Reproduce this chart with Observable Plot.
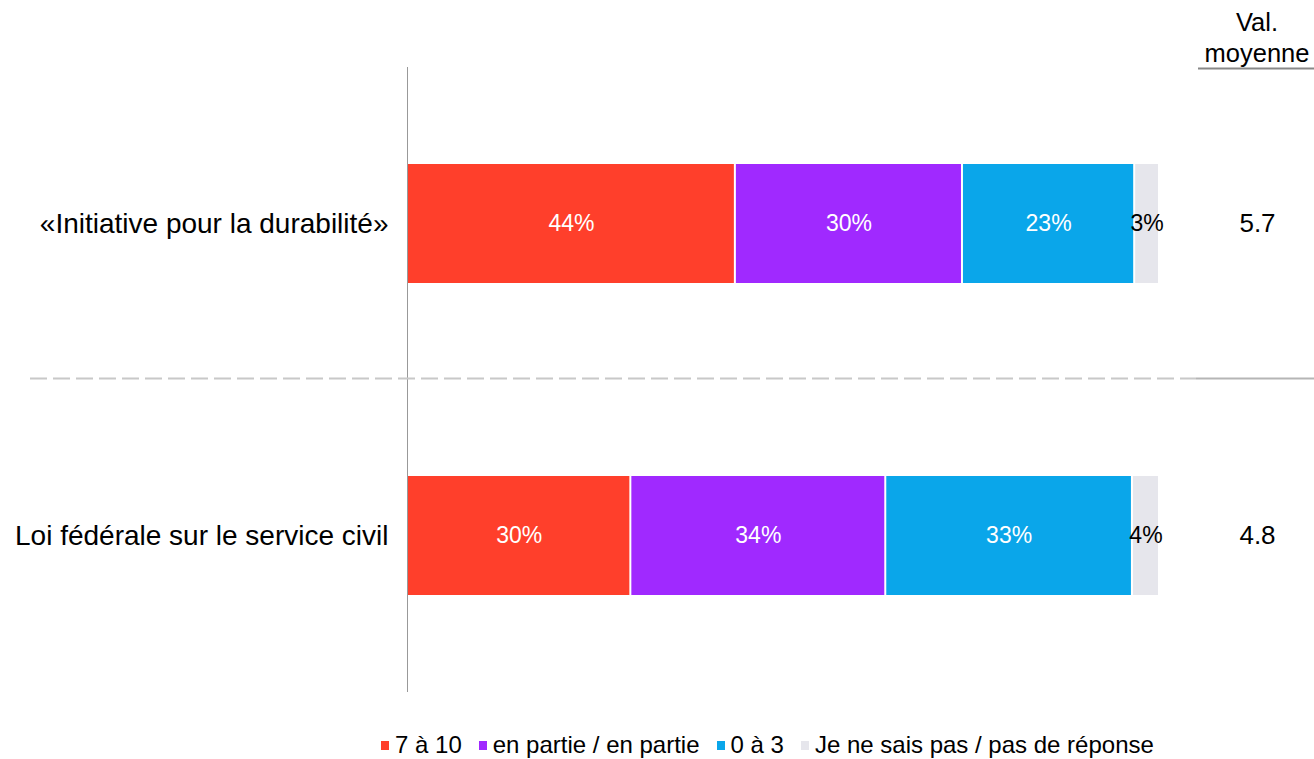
<!DOCTYPE html>
<html>
<head>
<meta charset="utf-8">
<script src="https://cdn.jsdelivr.net/npm/d3@7"></script>
<script src="https://cdn.jsdelivr.net/npm/@observablehq/plot@0.6"></script>
<style>
  body { margin: 0; background: #fff; font-family: "Liberation Sans", Arial, sans-serif; }
  #wrap { position: relative; width: 1314px; height: 759px; }
  #legend { position: absolute; left: 381px; top: 731px; display: flex; align-items: center; font-size: 24px; line-height: 28px; color: #000; white-space: nowrap; }
  #legend .item { display: flex; align-items: center; margin-right: 17px; }
  #legend .sw { width: 8px; height: 9px; margin-right: 6px; display: inline-block; }
</style>
</head>
<body>
<div id="wrap"><div id="chart"></div><div id="legend"></div></div>
<script>
const categories = ["«Initiative pour la durabilité»", "Loi fédérale sur le service civil"];
const seriesNames = ["7 à 10", "en partie / en partie", "0 à 3", "Je ne sais pas / pas de réponse"];
const seriesColors = ["#FF3F2B", "#A029FF", "#0AA6EA", "#E6E6EC"];
const valuesInitiative = [43.6, 30.2, 22.9, 3.3];
const valuesLoi = [29.7, 33.9, 32.8, 3.6];
const meanValues = [5.7, 4.8];
const meanHeader = ["Val.", "moyenne"];

const allValues = [valuesInitiative, valuesLoi];
const data = [];
categories.forEach((c, i) => {
  seriesNames.forEach((s, j) => {
    data.push({cat: c, series: s, value: allValues[i][j], idx: j});
  });
});
const means = categories.map((c, i) => ({cat: c, mean: meanValues[i]}));

const font = "Liberation Sans, Arial, sans-serif";
const plot = Plot.plot({
  width: 1314,
  height: 710,
  marginLeft: 407,
  marginRight: 155,
  marginTop: 67,
  marginBottom: 18,
  style: {fontFamily: font, background: "#fff"},
  x: {domain: [0, 100], axis: null},
  y: {domain: categories, paddingInner: 0.62, paddingOuter: 0.31, label: null},
  color: {domain: seriesNames, range: seriesColors},
  marks: [
    Plot.axisY({tickSize: 0, tickPadding: 19, fontSize: 28, label: null, fill: "#000"}),
    Plot.barX(data, Plot.stackX({x: "value", y: "cat", fill: "series", order: seriesNames, insetLeft: 1, insetRight: 1})),
    Plot.text(data, Plot.stackX({
      x: "value", y: "cat", order: seriesNames,
      text: d => Math.round(d.value) + "%",
      fill: d => d.idx === 3 ? "#000" : "#fff",
      fontSize: 23
    })),
    Plot.text(means, {y: "cat", x: () => 100, dx: 98, text: d => d.mean.toFixed(1), fontSize: 26, fill: "#000"}),
    Plot.ruleX([0], {stroke: "#999", strokeWidth: 1})
  ]
});
document.getElementById("chart").appendChild(plot);

// separator and header decorations derived from scales
const svg = d3.select(plot);
const ys = plot.scale("y");
const xs = plot.scale("x");
const bw = ys.bandwidth !== undefined ? ys.bandwidth : 119;
const y0 = ys.apply(categories[0]), y1 = ys.apply(categories[1]);
const sepY = Math.round((y0 + bw + y1) / 2 - 1.5) + 0.5;
const meanX = xs.apply(100) + 98;
svg.append("line").attr("x1", 30).attr("x2", 1196).attr("y1", sepY).attr("y2", sepY)
  .attr("stroke", "#c8c8c8").attr("stroke-width", 2).attr("stroke-dasharray", "17,6");
svg.append("line").attr("x1", 1196).attr("x2", 1314).attr("y1", sepY).attr("y2", sepY)
  .attr("stroke", "#b5b5b5").attr("stroke-width", 2);
meanHeader.forEach((t, i) => {
  svg.append("text").attr("x", meanX).attr("y", 31 + i * 31).attr("text-anchor", "middle")
    .attr("font-size", 25.5).attr("font-family", font).attr("fill", "#000").text(t);
});
svg.append("line").attr("x1", 1198).attr("x2", 1314).attr("y1", 68.5).attr("y2", 68.5)
  .attr("stroke", "#888").attr("stroke-width", 2);

// legend
const lg = d3.select("#legend");
seriesNames.forEach((s, i) => {
  const it = lg.append("div").attr("class", "item");
  it.append("span").attr("class", "sw").style("background", seriesColors[i]);
  it.append("span").text(s);
});
</script>
</body>
</html>
